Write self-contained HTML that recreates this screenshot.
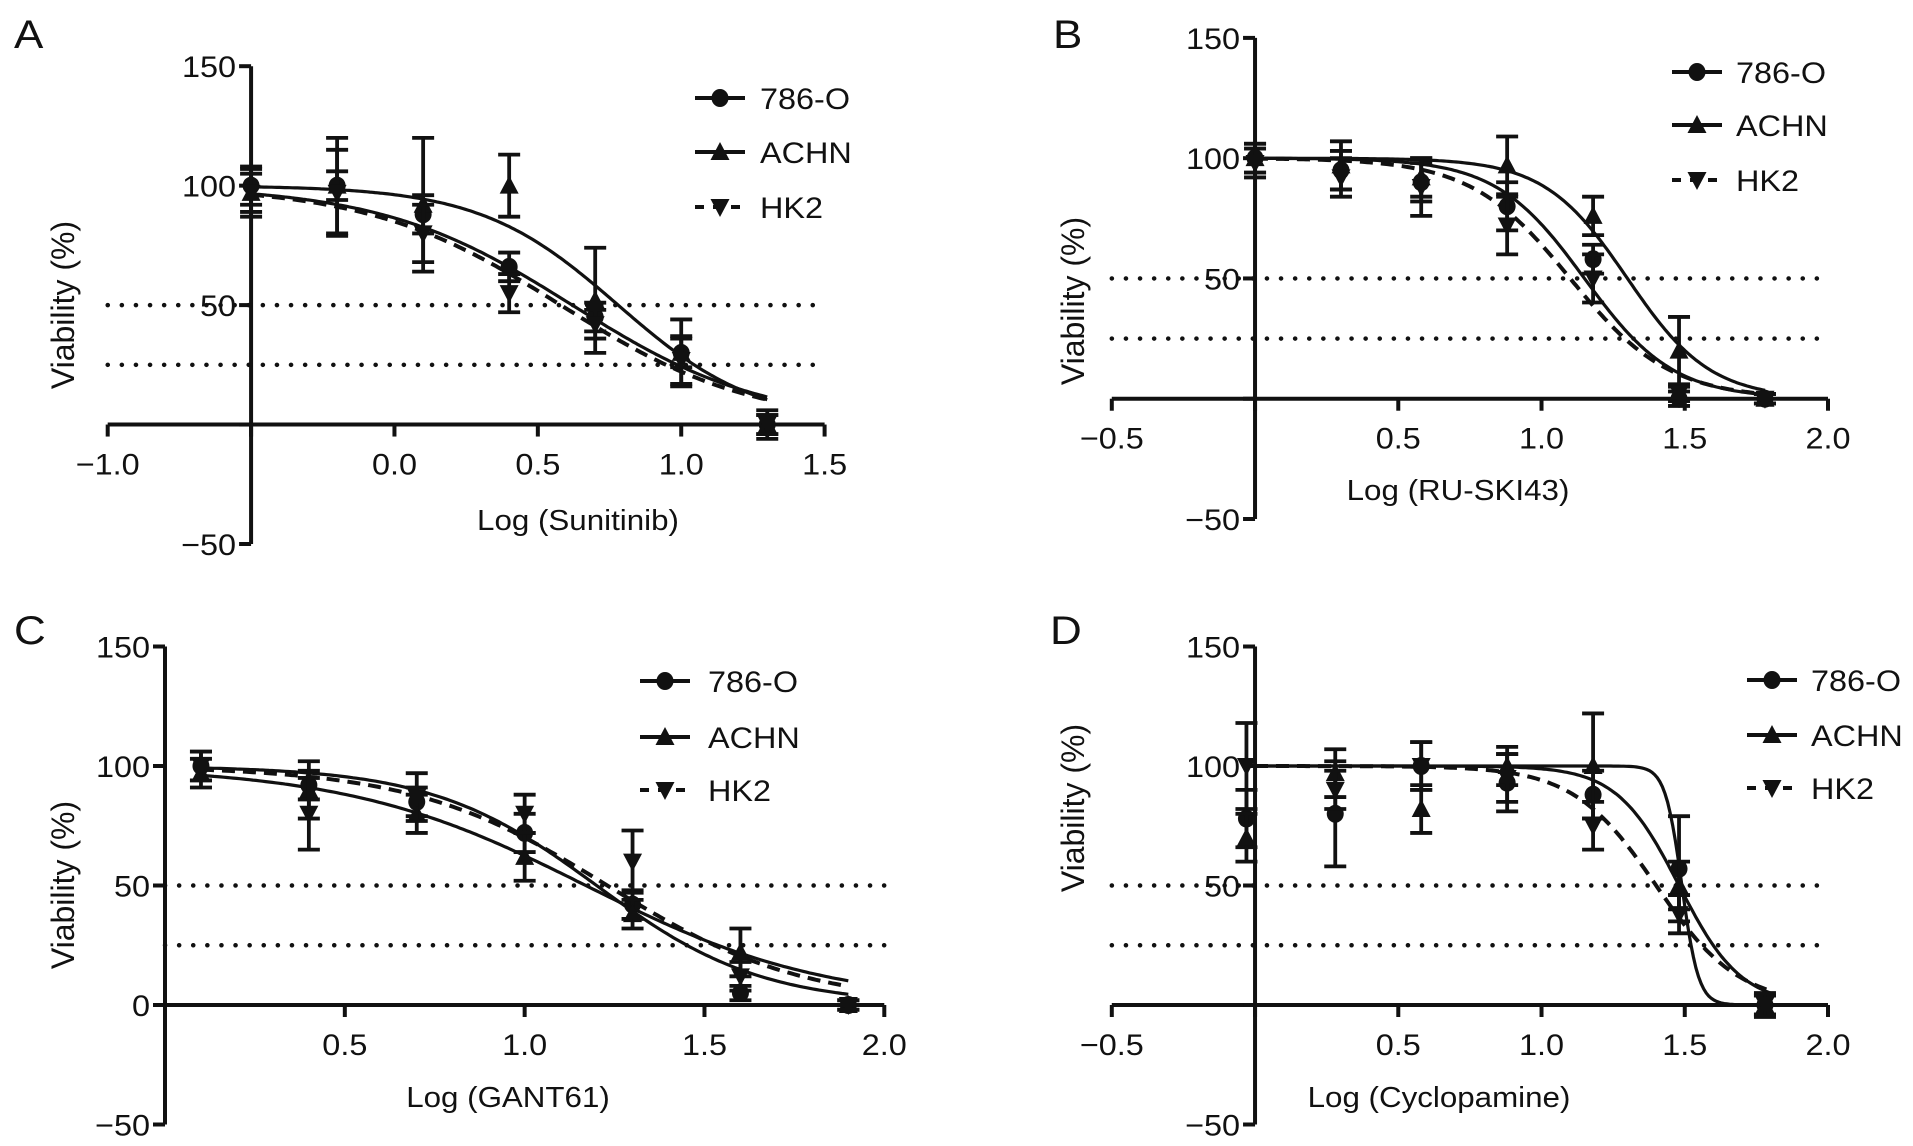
<!DOCTYPE html>
<html><head><meta charset="utf-8">
<style>
html,body{margin:0;padding:0;background:#fff;}
svg{display:block;}
text{font-family:"Liberation Sans",Arial,sans-serif;fill:#111;}
</style></head>
<body>
<svg id="fig" width="1913" height="1146" viewBox="0 0 1913 1146" xmlns="http://www.w3.org/2000/svg"></svg>
<script>
// ---------- DATA ----------
const seriesNames = ["786-O", "ACHN", "HK2"];
// Panel A - Sunitinib
const aX = [-0.5, -0.2, 0.1, 0.4, 0.7, 1.0, 1.3];
const a786 = [100, 100, 88, 66, 45, 30, 0];
const aACHN = [97, 100, 92, 100, 52, 30, 0];
const aHK2 = [97, 97, 80, 55, 42, 27, 0];
const aErr786 = [8, 6, 8, 6, 6, 6, 4];
const aErrACHN = [10, 20, 28, 13, 22, 14, 6];
const aErrHK2 = [8, 18, 12, 8, 6, 10, 4];
const aFit786 = [100, 0, 0.62, 1.3];
const aFitACHN = [100, 0, 0.78, 1.8];
const aFitHK2 = [100, 0, 0.58, 1.3];
// Panel B - RU-SKI43
const bX = [0, 0.3, 0.58, 0.88, 1.18, 1.48, 1.78];
const b786 = [100, 95, 90, 80, 58, 0, 0];
const bACHN = [100, 97, 92, 97, 76, 20, 0];
const bHK2 = [98, 92, 88, 72, 50, 2, 0];
const bErr786 = [6, 8, 8, 10, 6, 3, 2];
const bErrACHN = [6, 10, 8, 12, 8, 14, 2];
const bErrHK2 = [6, 8, 12, 12, 10, 3, 2];
const bFit786 = [100, 0, 1.15, 2.8];
const bFitACHN = [100, 0, 1.3, 3.0];
const bFitHK2 = [100, 0, 1.1, 2.5];
// Panel C - GANT61
const cX = [0.1, 0.4, 0.7, 1.0, 1.3, 1.6, 1.9];
const c786 = [100, 92, 85, 72, 42, 5, 0];
const cACHN = [97, 90, 80, 62, 38, 22, 0];
const cHK2 = [100, 80, 87, 80, 60, 12, 0];
const cErr786 = [6, 6, 6, 8, 6, 3, 2];
const cErrACHN = [6, 12, 8, 10, 6, 10, 2];
const cErrHK2 = [6, 15, 10, 8, 13, 6, 2];
const cFit786 = [100, 0, 1.2, 1.9];
const cFitACHN = [100, 0, 1.17, 1.3];
const cFitHK2 = [100, 0, 1.23, 1.6];
// Panel D - Cyclopamine
const dX = [-0.03, 0.28, 0.58, 0.88, 1.18, 1.48, 1.78];
const d786 = [78, 80, 100, 93, 88, 57, 0];
const dACHN = [70, 97, 82, 100, 100, 50, 0];
const dHK2 = [100, 90, 100, 95, 75, 38, 0];
const dErr786 = [12, 22, 10, 12, 10, 22, 4];
const dErrACHN = [10, 10, 10, 8, 22, 10, 4];
const dErrHK2 = [18, 8, 10, 10, 10, 8, 5];
const dFit786 = [100, 0, 1.48, 4];
const dFitACHN = [100, 0, 1.49, 15];
const dFitHK2 = [100, 0, 1.4, 3];
const refLines = [50, 25];

// ---------- RENDER ----------
const NS = "http://www.w3.org/2000/svg";
const fig = document.getElementById("fig");
function el(tag, attrs, parent) {
  const e = document.createElementNS(NS, tag);
  for (const k in attrs) e.setAttribute(k, attrs[k]);
  (parent || fig).appendChild(e);
  return e;
}
function txt(parent, x, y, s, size, anchor, sx) {
  const t = el("text", {transform: `translate(${x},${y}) scale(${sx || 1.08},1)`, "font-size": size, "text-anchor": anchor || "start"}, parent);
  t.textContent = s;
  return t;
}
function marker(parent, kind, x, y) {
  let m;
  if (kind === 0) m = el("ellipse", {cx: x, cy: y, rx: 8.5, ry: 9, fill: "#111"}, parent);
  else if (kind === 1) m = el("polygon", {points: `${x},${y - 10} ${x - 9.5},${y + 8} ${x + 9.5},${y + 8}`, fill: "#111"}, parent);
  else m = el("polygon", {points: `${x},${y + 10} ${x - 9.5},${y - 8} ${x + 9.5},${y - 8}`, fill: "#111"}, parent);
  return m;
}

const panels = [
  {id: "a", letter: "A", lx: 14, ly: 48, title: "Log (Sunitinib)", titleX: 578, titleY: 530,
   xmin: -1, xmax: 1.5, px0: 107.7, px1: 824.6, yAxisAt: -0.5, py150: 66.2, pyM50: 544,
   xticks: [-1, -0.5, 0, 0.5, 1, 1.5], xlabels: ["\u22121.0", "", "0.0", "0.5", "1.0", "1.5"],
   yticks: [150, 100, 50, 0, -50], ylabels: ["150", "100", "50", "", "\u221250"],
   curveRange: [-0.5, 1.3], vtX: 74, vtY: 305, legX: 695, legTX: 760, legY: [98, 152, 207],
   xs: aX, ys: [a786, aACHN, aHK2], errs: [aErr786, aErrACHN, aErrHK2], fits: [aFit786, aFitACHN, aFitHK2]},
  {id: "b", letter: "B", lx: 1053, ly: 48, title: "Log (RU-SKI43)", titleX: 1458, titleY: 500,
   xmin: -0.5, xmax: 2.0, px0: 1111.8, px1: 1828, yAxisAt: 0, py150: 37.9, pyM50: 519,
   xticks: [-0.5, 0, 0.5, 1, 1.5, 2], xlabels: ["\u22120.5", "", "0.5", "1.0", "1.5", "2.0"],
   yticks: [150, 100, 50, 0, -50], ylabels: ["150", "100", "50", "", "\u221250"],
   curveRange: [0, 1.78], vtX: 1084, vtY: 301, legX: 1672, legTX: 1736, legY: [72, 125, 180],
   xs: bX, ys: [b786, bACHN, bHK2], errs: [bErr786, bErrACHN, bErrHK2], fits: [bFit786, bFitACHN, bFitHK2]},
  {id: "c", letter: "C", lx: 14, ly: 644, title: "Log (GANT61)", titleX: 508, titleY: 1107,
   xmin: 0, xmax: 2.0, px0: 165, px1: 884.3, yAxisAt: 0, py150: 646.5, pyM50: 1124.5,
   xticks: [0, 0.5, 1, 1.5, 2], xlabels: ["", "0.5", "1.0", "1.5", "2.0"],
   yticks: [150, 100, 50, 0, -50], ylabels: ["150", "100", "50", "0", "\u221250"],
   curveRange: [0.1, 1.9], vtX: 74, vtY: 885, legX: 640, legTX: 708, legY: [681, 737, 790],
   xs: cX, ys: [c786, cACHN, cHK2], errs: [cErr786, cErrACHN, cErrHK2], fits: [cFit786, cFitACHN, cFitHK2]},
  {id: "d", letter: "D", lx: 1050, ly: 644, title: "Log (Cyclopamine)", titleX: 1439, titleY: 1107,
   xmin: -0.5, xmax: 2.0, px0: 1111.8, px1: 1828, yAxisAt: 0, py150: 646.5, pyM50: 1124.5,
   xticks: [-0.5, 0, 0.5, 1, 1.5, 2], xlabels: ["\u22120.5", "", "0.5", "1.0", "1.5", "2.0"],
   yticks: [150, 100, 50, 0, -50], ylabels: ["150", "100", "50", "", "\u221250"],
   curveRange: [0, 1.8], vtX: 1084, vtY: 808, legX: 1747, legTX: 1811, legY: [680, 735, 788],
   xs: dX, ys: [d786, dACHN, dHK2], errs: [dErr786, dErrACHN, dErrHK2], fits: [dFit786, dFitACHN, dFitHK2]}
];

function logistic(f, x) { return f[1] + (f[0] - f[1]) / (1 + Math.pow(10, (x - f[2]) * f[3])); }

panels.forEach(p => {
  const g = el("g", {});
  
  
  const X = v => p.px0 + (v - p.xmin) / (p.xmax - p.xmin) * (p.px1 - p.px0);
  const Y = v => p.pyM50 + (v + 50) / 200 * (p.py150 - p.pyM50);
  const ax = X(p.yAxisAt), y0 = Y(0);

  const lt = txt(g, p.lx, p.ly, p.letter, 40, "start", 1.1);
  
  

  refLines.forEach(r => {
    const l = el("line", {x1: X(p.xmin), x2: X(p.xmax), y1: Y(r), y2: Y(r), stroke: "#111", "stroke-width": 4.5, "stroke-dasharray": "0.1 14", "stroke-linecap": "round"}, g);
    
    
  });

  const xa = el("line", {x1: X(p.xmin), x2: X(p.xmax), y1: y0, y2: y0, stroke: "#111", "stroke-width": 4}, g);
  
  
  const ya = el("line", {x1: ax, x2: ax, y1: Y(150), y2: Y(-50), stroke: "#111", "stroke-width": 4}, g);
  
  

  p.xticks.forEach((t, i) => {
    el("line", {x1: X(t), x2: X(t), y1: y0, y2: y0 + 12, stroke: "#111", "stroke-width": 4}, g);
    if (p.xlabels[i]) {
      const tl = txt(g, X(t), y0 + 50, p.xlabels[i], 30, "middle");
      
      
    }
  });
  p.yticks.forEach((t, i) => {
    el("line", {x1: ax - 12, x2: ax, y1: Y(t), y2: Y(t), stroke: "#111", "stroke-width": 4}, g);
    if (p.ylabels[i]) {
      const tl = txt(g, ax - 15, Y(t) + 11, p.ylabels[i], 30, "end");
      
      
    }
  });

  const xt = txt(g, p.titleX, p.titleY, p.title, 29, "middle");
  
  
  const yt = el("text", {transform: `translate(${p.vtX},${p.vtY}) rotate(-90)`, "font-size": 32, "text-anchor": "middle"}, g);
  yt.textContent = "Viability (%)";
  
  

  p.fits.forEach((f, s) => {
    let d = "";
    const n = 200;
    for (let i = 0; i <= n; i++) {
      const xv = p.curveRange[0] + (p.curveRange[1] - p.curveRange[0]) * i / n;
      d += (i ? "L" : "M") + X(xv).toFixed(1) + "," + Y(logistic(f, xv)).toFixed(1);
    }
    const c = el("path", {d: d, fill: "none", stroke: "#111", "stroke-width": s === 2 ? 4 : 3.2, "stroke-dasharray": s === 2 ? "13 8" : "none"}, g);
    
    
  });

  p.ys.forEach((vals, s) => {
    vals.forEach((v, i) => {
      const x = X(p.xs[i]), e = p.errs[s][i];
      const eb = el("path", {d: `M${x},${Y(v + e)}V${Y(v - e)}M${x - 11},${Y(v + e)}H${x + 11}M${x - 11},${Y(v - e)}H${x + 11}`, stroke: "#111", "stroke-width": 3.8, fill: "none"}, g);
      
      
      const m = marker(g, s, x, Y(v));
      
      
    });
  });

  seriesNames.forEach((nm, s) => {
    const ly = p.legY[s];
    const lg = el("g", {}, g);
    
    
    el("line", {x1: p.legX, x2: p.legX + 50, y1: ly, y2: ly, stroke: "#111", "stroke-width": 4, "stroke-dasharray": s === 2 ? "9 9" : "none"}, lg);
    marker(lg, s, p.legX + 25, ly);
    txt(lg, p.legTX, ly + 11, nm, 30, "start");
  });
});
</script>
</body></html>
